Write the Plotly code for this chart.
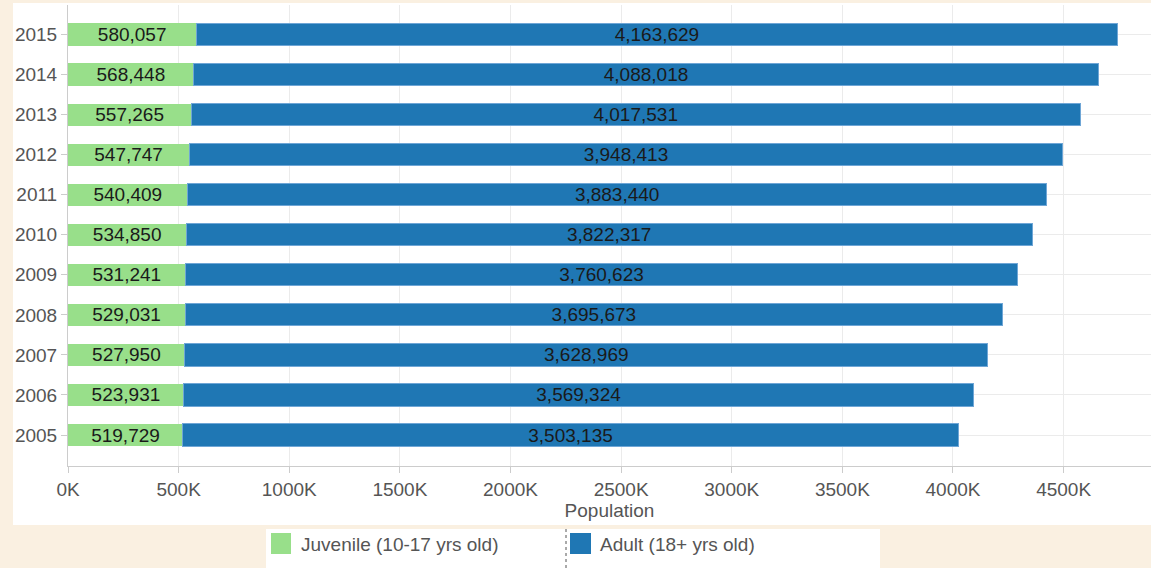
import plotly.graph_objects as go

years = [2005, 2006, 2007, 2008, 2009, 2010, 2011, 2012, 2013, 2014, 2015]
juvenile = [519729, 523931, 527950, 529031, 531241, 534850, 540409, 547747, 557265, 568448, 580057]
adult = [3503135, 3569324, 3628969, 3695673, 3760623, 3822317, 3883440, 3948413, 4017531, 4088018, 4163629]
series_names = ["Juvenile (10-17 yrs old)", "Adult (18+ yrs old)"]
x_tick_vals = [0, 500000, 1000000, 1500000, 2000000, 2500000, 3000000, 3500000, 4000000, 4500000]
x_tick_text = ["0K", "500K", "1000K", "1500K", "2000K", "2500K", "3000K", "3500K", "4000K", "4500K"]

GREEN = "#98df8a"
BLUE = "#1f77b4"
BG = "#faf0e1"
FONT = "Liberation Sans, Arial, sans-serif"

W, H = 1151, 568
L, R, T, B = 68, 0, 5, 102
pw, ph = W - L - R, H - T - B


def px(x):
    return (x - L) / pw


def py(y):
    return (H - B - y) / ph


fig = go.Figure()
fig.add_trace(go.Bar(
    y=years, x=juvenile, orientation="h", name=series_names[0],
    marker=dict(color=GREEN, line=dict(width=0)),
    text=[f"{v:,}" for v in juvenile], textposition="inside",
    insidetextanchor="middle", constraintext="none", textangle=0,
    textfont=dict(family=FONT, size=19, color="#1a1a1a"),
    width=0.555, showlegend=False,
))
fig.add_trace(go.Bar(
    y=years, x=adult, orientation="h", name=series_names[1],
    marker=dict(color=BLUE, line=dict(width=1, color="#6fa6d6")),
    text=[f"{v:,}" for v in adult], textposition="inside",
    insidetextanchor="middle", constraintext="none", textangle=0,
    textfont=dict(family=FONT, size=19, color="#1a1a1a"),
    width=0.555, showlegend=False,
))

shapes = [
    dict(type="rect", xref="paper", yref="paper", layer="below",
         x0=px(13), x1=px(1151), y0=py(525), y1=py(3),
         fillcolor="white", line=dict(width=0)),
    dict(type="rect", xref="paper", yref="paper", layer="below",
         x0=px(266), x1=px(880), y0=py(568), y1=py(529),
         fillcolor="white", line=dict(width=0)),
    dict(type="rect", xref="paper", yref="paper",
         x0=px(271), x1=px(291), y0=py(554), y1=py(533),
         fillcolor=GREEN, line=dict(width=0)),
    dict(type="rect", xref="paper", yref="paper",
         x0=px(570), x1=px(591), y0=py(554), y1=py(533),
         fillcolor=BLUE, line=dict(width=0)),
    dict(type="line", xref="paper", yref="paper",
         x0=px(566), x1=px(566), y0=py(568), y1=py(529),
         line=dict(color="#555555", width=1, dash="dot")),
]

annotations = [
    dict(xref="paper", yref="paper", x=px(299), y=py(544), xanchor="left", yanchor="middle",
         text=series_names[0], showarrow=False, font=dict(family=FONT, size=19, color="#555555")),
    dict(xref="paper", yref="paper", x=px(598), y=py(544), xanchor="left", yanchor="middle",
         text=series_names[1], showarrow=False, font=dict(family=FONT, size=19, color="#555555")),
]

fig.update_layout(
    width=W, height=H,
    margin=dict(l=L, r=R, t=T, b=B, pad=0),
    paper_bgcolor=BG, plot_bgcolor="white",
    barmode="stack", bargap=0.445,
    font=dict(family=FONT, size=19, color="#555555"),
    shapes=shapes, annotations=annotations,
    showlegend=False,
    xaxis=dict(
        range=[0, 4895000], tickvals=x_tick_vals, ticktext=x_tick_text,
        showgrid=True, gridcolor="#ebebeb", gridwidth=1,
        showline=True, linecolor="#cccccc", linewidth=1,
        ticks="outside", ticklen=6, tickcolor="#cccccc",
        tickfont=dict(family=FONT, size=19, color="#555555"),
        title=dict(text="Population", font=dict(family=FONT, size=19, color="#555555"), standoff=4),
        zeroline=False, fixedrange=True,
    ),
    yaxis=dict(
        range=[2005 - 0.774, 2015 + 0.737], tickvals=years, ticktext=[str(y) for y in years],
        showgrid=True, gridcolor="#ebebeb", gridwidth=1,
        showline=True, linecolor="#cccccc", linewidth=1,
        ticks="outside", ticklen=6, tickcolor="#cccccc",
        tickfont=dict(family=FONT, size=19, color="#555555"),
        zeroline=False, fixedrange=True,
    ),
)

fig.write_html("out.html", config={"displayModeBar": False})
